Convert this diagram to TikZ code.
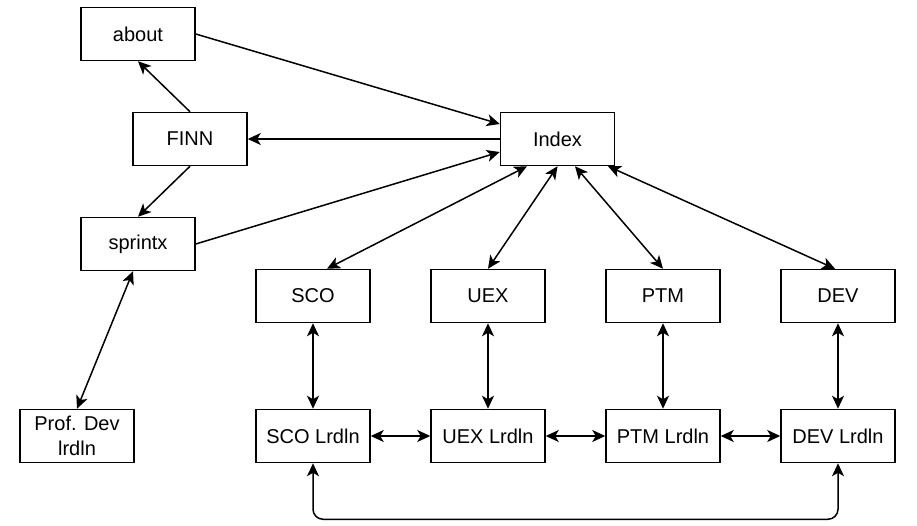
\documentclass[tikz,border=0pt]{standalone}
\usepackage{fontspec}
\setmainfont{Liberation Sans}
\usetikzlibrary{arrows.meta,calc}
\begin{document}
\begin{tikzpicture}[x=1pt,y=1pt,
  box/.style={draw,line width=1.5pt,minimum width=114pt,minimum height=53pt,inner sep=0pt,align=center,font=\fontsize{20}{25}\selectfont},
  conn/.style={line width=1.5pt,-{Stealth[length=13pt,width=12pt,inset=3.5pt]}},
  bconn/.style={line width=1.5pt,{Stealth[length=13pt,width=12pt,inset=3.5pt]}-{Stealth[length=13pt,width=12pt,inset=3.5pt]}}]
\useasboundingbox (0,0) rectangle (917,-526);
\node[box] (about) at (138,-34) {about};
\node[box] (finn) at (190,-139) {FINN};
\node[box] (sprintx) at (138,-244) {sprintx};
\node[box] (prof) at (77,-436) {Prof. Dev\\lrdln};
\node[box] (index) at (557.5,-139) {Index};
\node[box] (sco) at (313,-296) {SCO};
\node[box] (uex) at (488,-296) {UEX};
\node[box] (ptm) at (663,-296) {PTM};
\node[box] (dev) at (838,-296) {DEV};
\node[box] (scol) at (313,-436) {SCO Lrdln};
\node[box] (uexl) at (488,-436) {UEX Lrdln};
\node[box] (ptml) at (663,-436) {PTM Lrdln};
\node[box] (devl) at (838,-436) {DEV Lrdln};
\draw[conn] (about.east) -- ($(index.west)+(0,15)$);
\draw[conn] (index.west) -- (finn.east);
\draw[conn] (finn.north) -- (about.south);
\draw[conn] (finn.south) -- (sprintx.north);
\draw[conn] (sprintx.east) -- ($(index.west)+(0,-13)$);
\draw[bconn] ($(sprintx.south)+(-5,0)$) -- (prof.north);
\draw[bconn] ($(index.south)+(-30.5,0)$) -- ($(sco.north)+(14,0)$);
\draw[bconn] (index.south) -- (uex.north);
\draw[bconn] ($(index.south)+(17.5,0)$) -- (ptm.north);
\draw[bconn] ($(index.south)+(50.5,0)$) -- ($(dev.north)+(-3,0)$);
\draw[bconn] (sco.south) -- (scol.north);
\draw[bconn] (uex.south) -- (uexl.north);
\draw[bconn] (ptm.south) -- (ptml.north);
\draw[bconn] (dev.south) -- (devl.north);
\draw[bconn] (scol.east) -- (uexl.west);
\draw[bconn] (uexl.east) -- (ptml.west);
\draw[bconn] (ptml.east) -- (devl.west);
\draw[bconn,rounded corners=10pt] (scol.south) -- ++(0,-56) -| (devl.south);
\end{tikzpicture}
\end{document}
